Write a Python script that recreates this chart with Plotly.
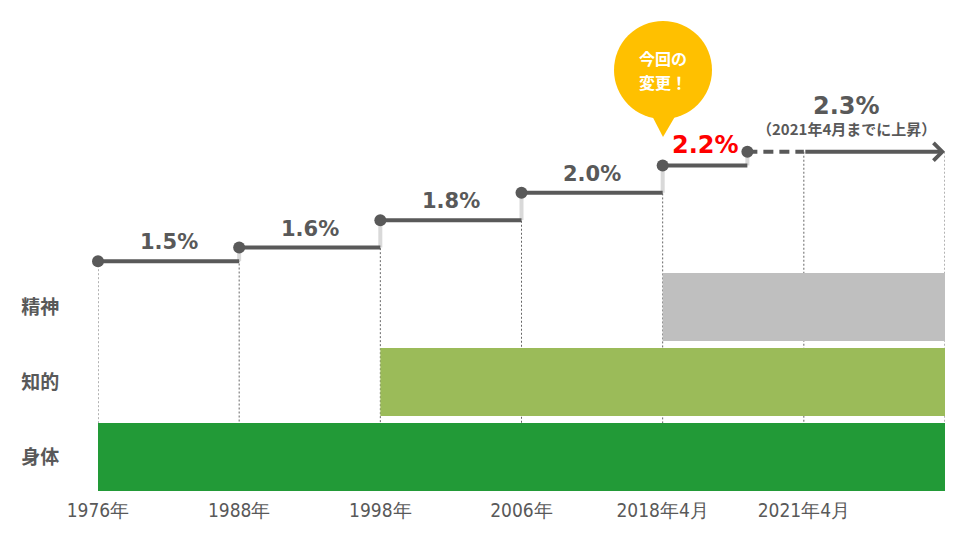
import plotly.graph_objects as go

# ---------------- data ----------------
tick_labels = ["1976年", "1988年", "1998年", "2006年", "2018年4月", "2021年4月"]
tick_pos = [0, 1, 2, 3, 4, 5]
step_pos = [0, 1, 2, 3, 4, 4.6]          # where each rate starts (ordinal axis)
rates = [1.5, 1.6, 1.8, 2.0, 2.2, 2.3]
end_pos = 6                               # right end of the chart
dash_until = 5                            # 2.3% dashed until 2021年4月
label_colors = ["#595959", "#595959", "#595959", "#595959", "#FF0000", "#595959"]
callout_lines = ["今回の", "変更！"]

groups = ["身体", "知的", "精神"]
group_start = [0, 2, 4]
group_end = [6, 6, 6]
group_colors = ["#229A37", "#9BBB59", "#BFBFBF"]

# ---------------- layout constants ----------------
W, H = 967, 551
ML, MR, MT, MB = 98, 22, 20, 60
Y_MIN, Y_MAX = -0.18, 3.263
GRAY = "#595959"
FONT_B = "Noto Sans CJK JP"
FONT_NUM = "DejaVu Sans"
plot_h = H - MT - MB
px_per_x = (W - ML - MR) / 6.0
px_per_y = plot_h / (Y_MAX - Y_MIN)

def py2v(p):
    return Y_MIN + (H - MB - p) / px_per_y

def px2x(p):
    return (p - ML) / px_per_x

fig = go.Figure()

# dotted vertical guide lines (from each level down to the bottom)
guide_x, guide_y = [], []
for p in tick_pos + [end_pos]:
    lvl = max(r for s, r in zip(step_pos, rates) if s <= p)
    guide_x += [p, p, None]
    guide_y += [lvl, Y_MIN, None]
fig.add_trace(go.Scatter(x=guide_x, y=guide_y, mode="lines",
                         line=dict(color="#666666", width=1, dash="2px,2px"),
                         hoverinfo="skip", showlegend=False, cliponaxis=False))

# light grey step connectors
con_x, con_y = [], []
for i in range(1, len(step_pos)):
    con_x += [step_pos[i], step_pos[i], None]
    con_y += [rates[i - 1], rates[i], None]
fig.add_trace(go.Scatter(x=con_x, y=con_y, mode="lines",
                         line=dict(color="#D9D9D9", width=4),
                         hoverinfo="skip", showlegend=False, cliponaxis=False))

# horizontal solid segments
seg_x, seg_y = [], []
for i in range(len(step_pos) - 1):
    seg_x += [step_pos[i], step_pos[i + 1], None]
    seg_y += [rates[i], rates[i], None]
fig.add_trace(go.Scatter(x=seg_x, y=seg_y, mode="lines",
                         line=dict(color=GRAY, width=4),
                         hoverinfo="skip", showlegend=False, cliponaxis=False))

# dashed part of final level
fig.add_trace(go.Scatter(x=[step_pos[-1], dash_until], y=[rates[-1], rates[-1]], mode="lines",
                         line=dict(color=GRAY, width=4, dash="10px,6px"),
                         hoverinfo="skip", showlegend=False, cliponaxis=False))

# markers
fig.add_trace(go.Scatter(x=step_pos, y=rates, mode="markers",
                         marker=dict(color=GRAY, size=12, line=dict(width=0)),
                         hoverinfo="skip", showlegend=False, cliponaxis=False))

# bars (rows)
for g, s, e, c in zip(groups, group_start, group_end, group_colors):
    fig.add_trace(go.Bar(y=[g], x=[e - s], base=[s], orientation="h",
                         marker=dict(color=c, line=dict(width=0)), width=0.907,
                         xaxis="x", yaxis="y2", showlegend=False, hoverinfo="skip"))

annotations = []
# arrow on final level
annotations.append(dict(x=end_pos, y=rates[-1], ax=dash_until, ay=rates[-1],
                        xref="x", yref="y", axref="x", ayref="y", text="",
                        showarrow=True, arrowhead=4, arrowsize=0.85, arrowwidth=4,
                        arrowcolor=GRAY, standoff=0))

# rate labels
for i in range(len(rates) - 1):
    mid = (step_pos[i] + step_pos[i + 1]) / 2
    big = label_colors[i] == "#FF0000"
    annotations.append(dict(x=mid, y=rates[i], xref="x", yref="y",
                            text=f"<b>{rates[i]:.1f}%</b>", showarrow=False,
                            yanchor="bottom", yshift=5 if not big else 4,
                            font=dict(family=FONT_NUM, size=21 if not big else 24,
                                      color=label_colors[i])))
last_mid = (step_pos[-1] + end_pos) / 2
annotations.append(dict(x=last_mid, y=rates[-1], xref="x", yref="y",
                        text=f"<b>{rates[-1]:.1f}%</b>", showarrow=False,
                        yanchor="bottom", yshift=30,
                        font=dict(family=FONT_NUM, size=24, color=GRAY)))
annotations.append(dict(x=last_mid, y=rates[-1], xref="x", yref="y",
                        text="<b>（2021年4月までに上昇）</b>", showarrow=False,
                        yanchor="bottom", yshift=11,
                        font=dict(family=FONT_B, size=15, color=GRAY)))

# callout bubble
cx, cy, r = 663, 70, 49
shapes = [
    dict(type="path", xref="x", yref="y",
         path=(f"M {px2x(648)},{py2v(108)} L {px2x(663)},{py2v(137)} "
               f"L {px2x(680)},{py2v(108)} Z"),
         fillcolor="#FFC000", line=dict(width=0), layer="above"),
    dict(type="circle", xref="x", yref="y",
         x0=px2x(cx - r), x1=px2x(cx + r), y0=py2v(cy + r), y1=py2v(cy - r),
         fillcolor="#FFC000", line=dict(width=0), layer="above"),
]
for k, line in enumerate(callout_lines):
    annotations.append(dict(x=px2x(cx), y=py2v(cy - 12 + 24 * k), xref="x", yref="y",
                            text=f"<b>{line}</b>", showarrow=False,
                            font=dict(family=FONT_B, size=16, color="white")))

fig.update_layout(
    width=W, height=H,
    margin=dict(l=ML, r=MR, t=MT, b=MB),
    paper_bgcolor="white", plot_bgcolor="rgba(0,0,0,0)",
    barmode="overlay",
    xaxis=dict(range=[0, 6], tickvals=tick_pos, ticktext=tick_labels,
               showgrid=False, zeroline=False, showline=False,
               ticks="outside", ticklen=2, tickcolor="rgba(0,0,0,0)",
               tickfont=dict(family="Liberation Sans Narrow, DejaVu Sans Condensed, sans-serif",
                             size=19, color=GRAY)),
    yaxis=dict(range=[Y_MIN, Y_MAX], visible=False, domain=[0, 1]),
    yaxis2=dict(domain=[0, (H - MB - 273) / plot_h], anchor="x", type="category",
                categoryorder="array", categoryarray=groups, range=[-0.4535, 2.4535],
                showgrid=False, zeroline=False, showline=False,
                ticks="outside", ticklen=34, tickcolor="rgba(0,0,0,0)",
                tickfont=dict(family=FONT_B, size=19, color=GRAY, weight="bold")),
    shapes=shapes,
    annotations=annotations,
)

fig.write_html("out.html")
